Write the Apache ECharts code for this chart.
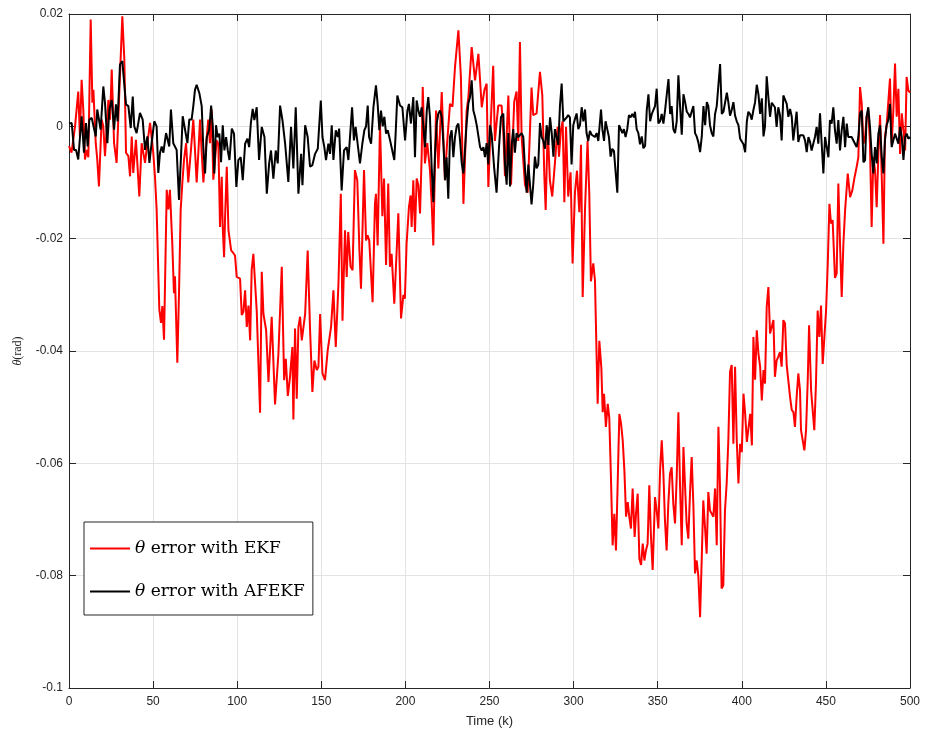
<!DOCTYPE html>
<html><head><meta charset="utf-8">
<script src="https://cdn.jsdelivr.net/npm/echarts@6/dist/echarts.min.js"></script>
<style>html,body{margin:0;padding:0;background:#fff}#c{width:927px;height:733px}</style>
</head><body><div id="c"></div>
<script>
// [time k, error in mrad]
const ekfErr = [
[0,-3.5],[1.5,-4.7],[2.2,-4.7],[3.6,0],[5.5,6.2],[6.5,-1.8],[7.5,8.3],[8.5,3],[9.5,-5.9],[10.5,-4.2],[11.5,-5.5],[12.9,19],[13.9,4.2],[14.5,6.5],[15.9,-3],[16.8,-5.9],[17.8,-10.7],[19.4,1.2],[20.4,0],[21.4,-5.3],[23.4,4.7],[24.4,1.2],[25.4,10.1],[26.8,-3],[28.3,-6.5],[29.9,5.9],[31.7,19.6],[32.9,11.9],[33.9,-4.7],[35.3,-5.3],[36.3,-8.9],[37.3,-1.8],[38.2,-8.3],[39.8,-2.4],[41.8,-12.5],[43.2,-3],[45.2,-6.5],[46.6,-3],[48.2,0.6],[50.1,-4.7],[51.1,-8.9],[52.1,-14.8],[53.7,-32.6],[54.7,-35],[55.5,-32],[56.5,-38],[58.1,-11.3],[59.1,-14.8],[60,-11.3],[61.4,-20.8],[62.4,-29.7],[63,-26.7],[64.4,-42.1],[65.4,-29.7],[66.4,-14.8],[67.4,-10],[68.4,-5.9],[69.6,-3],[70.9,-10],[72.5,-4.2],[73.9,1.2],[74.9,-4.2],[75.9,-10],[76.9,-4.7],[77.9,1.2],[78.9,-4.7],[79.9,-10],[81.3,-4.2],[82.8,1.2],[83.8,-3],[84.8,3],[85.8,-9.5],[87.8,-2.5],[88.8,-3.1],[89.8,-17.9],[90.8,-9],[91.4,-17.9],[92.2,-23.3],[92.8,-16.1],[93.8,-7.2],[94.8,-18.5],[96.4,-22.1],[97.5,-22.5],[98.7,-23],[99.7,-26.8],[101.7,-27.1],[102.7,-33.6],[103.7,-33],[104.7,-29.2],[105.7,-35.7],[106.7,-31.9],[107.7,-38.1],[108.6,-25.6],[109.6,-22.7],[111.6,-32.8],[113.6,-51],[114.6,-25.9],[115.6,-33.4],[117.2,-36.3],[118.6,-45.5],[120.5,-33.9],[122.5,-49.5],[124.5,-40.5],[126.5,-25],[127.9,-45.2],[128.9,-41.4],[130.1,-48],[131.4,-44.6],[132.8,-39.3],[133.4,-52.2],[134.4,-36],[135.4,-48.5],[136.4,-35.7],[137.4,-33.9],[138.4,-38.1],[140.4,-33.4],[141.9,-22.1],[143.3,-36],[144.7,-47.3],[145.9,-41.7],[147.3,-43.4],[148.3,-42.8],[149.3,-33.4],[150.7,-44],[152.2,-45.2],[153.8,-39.9],[155.8,-35.7],[157.2,-29.2],[158.6,-39.3],[160.2,-28],[161.6,-12],[162.6,-34.6],[164.1,-18.5],[165.1,-26.8],[166,-18.8],[167.4,-25],[168.6,-25.6],[170,-7.8],[171.4,-9.6],[172.6,-21.5],[173.6,-28.9],[175.4,-7.8],[176.6,-20.3],[177.5,-19.4],[178.5,-20.3],[180.5,-31.3],[181.9,-13.8],[182.5,-12],[183.5,-21.2],[184.9,0.5],[186.3,-16],[187.3,-9.3],[188.5,-24.7],[189.8,-10.2],[190.8,-25],[191.8,-22.7],[193.4,-31.6],[195.8,-15.5],[197.4,-34.2],[198.8,-30],[199.7,-30.7],[200.7,-20.9],[202.1,-14.4],[203.1,-12.3],[203.7,-17.9],[204.7,-9.6],[205.7,-18.8],[206.7,-9.3],[207.7,-10.5],[208.7,-15.5],[209.7,-4.9],[210.3,7],[211.6,-6.6],[213,-3],[214.6,-7.8],[215.6,-13.5],[216.6,-21.2],[218.2,2.8],[219.6,-7.5],[221.6,6.1],[223.5,-9.6],[224.5,-4.3],[226.5,4],[228,3.5],[229.5,10.6],[231.5,17.1],[233,8.8],[234.5,-13.8],[236.4,2.8],[237.4,5],[239.4,14.1],[241.4,8.2],[243.4,12.9],[245.4,3.4],[247,6.5],[248.3,7.6],[249.3,-10.8],[250.6,-0.6],[252.2,10.8],[253.2,-2.6],[255.2,3.7],[257.2,3.7],[258.2,-1],[259.2,-8.9],[261.2,5.5],[262.8,-10.4],[264.7,4.4],[266.1,6.2],[267.1,-2.6],[268.1,15],[269.1,-1.9],[271.1,-10.4],[272.7,-11.8],[275,6.9],[276,2],[278,2.3],[280,9.7],[281.4,5.5],[282.6,-8.9],[283.4,-14.9],[284.6,-0.1],[285.9,-9.6],[287.3,-12.5],[288.9,-6.5],[290.5,-0.1],[291.3,-5.4],[292.5,-0.5],[293.5,0.9],[294.5,-13.5],[295.5,-0.1],[296.8,-12.5],[298.2,-8.2],[299.4,-24.4],[300.8,-11.8],[302,-7.9],[303.4,-15.3],[304.4,-3.3],[305.4,-30.4],[306.8,-14.6],[308.3,-2.6],[309.3,-11.8],[310.3,-27.6],[311.7,-24.4],[312.7,-27.4],[314.3,-49.4],[315.3,-38.2],[316.5,-43],[317.3,-50.9],[318.1,-47.6],[319.2,-53.5],[320.3,-49.4],[321.2,-51.8],[322.2,-62.4],[323.2,-74.6],[324.2,-69],[325.2,-75.5],[326.2,-63.6],[327.2,-51.2],[328.2,-52.9],[329.2,-55.9],[330.2,-61.3],[331.2,-69.5],[332.2,-66.9],[333.1,-69.5],[334.1,-71.6],[335.1,-64.5],[336.3,-73.1],[337.1,-69],[338.1,-65.4],[339.1,-77],[340.1,-78.1],[341.1,-74.3],[342.1,-77.3],[343,-75.5],[344,-74.3],[345,-63.9],[346,-73.1],[347,-79],[348.4,-66],[349.4,-68.4],[350.4,-71.6],[351.4,-61.3],[352.4,-55.9],[353.4,-61.9],[354.3,-70.1],[355.3,-75.5],[356.3,-67.3],[357.3,-61.9],[358.3,-60.7],[359.3,-67.3],[360.3,-70.7],[361.3,-62.4],[362.3,-50.9],[363.3,-64.2],[364.3,-74.6],[365.3,-57.1],[366.2,-63.6],[367.2,-70.7],[368.2,-73.4],[369.2,-65.4],[370.2,-58.9],[371.2,-67.3],[372.2,-79.6],[373.2,-77.3],[374.2,-80.2],[375.2,-87.4],[376.2,-76.7],[377.1,-66.6],[378.1,-71.3],[379.1,-76.1],[380.1,-65.1],[381.1,-68.4],[382.1,-68.4],[383.1,-69.5],[384.1,-64.5],[385.1,-74.6],[386.1,-53.5],[387,-63.6],[388,-82.3],[389,-81.7],[390,-68.4],[391,-63.6],[392,-55.9],[393,-43.7],[394,-42.5],[395,-56.5],[396,-42.8],[397,-55.9],[398,-63.6],[399,-56.5],[400,-58],[401,-47.6],[402,-51.2],[403,-56.2],[404,-55.9],[405,-51.2],[406,-56.8],[406.9,-37.5],[407.9,-45.1],[408.9,-36.3],[409.9,-40.5],[410.9,-42.8],[411.9,-48.8],[412.9,-43.4],[413.8,-45.8],[414.8,-32.2],[415.8,-28.6],[416.8,-36.9],[417.8,-37.2],[418.8,-34.5],[419.7,-44.6],[420.7,-41.7],[421.7,-41],[422.7,-40.2],[423.7,-42.8],[424.7,-34.5],[425.7,-35.1],[426.7,-42.5],[427.7,-42.8],[428.7,-48.2],[429.7,-50.5],[430.7,-50.9],[431.6,-53.5],[432.6,-48.2],[433.6,-44],[434.6,-47],[435.2,-54.1],[436.2,-54],[437.2,-57.7],[438.2,-54.1],[439.2,-45.2],[440,-35.4],[441.2,-47],[442.1,-47.3],[443.1,-54.1],[444.1,-45.8],[445.1,-32.8],[446.1,-37.5],[447.1,-31.9],[448.1,-42.3],[449.1,-37.5],[450.1,-32.8],[451.1,-24.5],[452.1,-13.8],[453,-17.3],[454,-16.7],[455.4,-27],[456.4,-26.2],[457.4,-10.2],[458.4,-20.9],[459.4,-30.4],[460.4,-20.9],[461.4,-15],[463,-8.4],[464.4,-12.6],[465.7,-11.4],[466.9,-9.3],[468.3,-7.2],[469.3,-5.5],[470.3,7],[471.3,4],[472.3,-3.1],[473.3,-1.9],[474.2,1.7],[475.2,2.8],[476.2,-3.1],[477.2,-17.9],[478.2,-5.5],[479.2,-7.8],[480.2,-14.4],[481.2,-4.9],[482.2,2],[483.2,-9],[484.2,-20.9],[485.1,-1.9],[486.1,0.2],[487.1,0],[488.1,8.5],[489.1,-3.1],[490.1,2.8],[491.1,11.2],[492.1,1.7],[493.1,6.7],[494.1,-4.9],[495.1,2.3],[496.1,-0.7],[497.1,-4.3],[498,8.8],[499,6.4],[500,6]
];
const afekfErr = [
[0,0.5],[1.6,0.6],[3,-4.2],[4.2,-4.2],[5.5,-5.9],[7.5,1.8],[8.9,-4.7],[10.1,0.6],[11.1,-3.6],[12.1,1.2],[13.5,1.5],[14.5,1.2],[15.9,-1.8],[16.8,3],[17.8,3.3],[18.8,-0.6],[20.4,7.1],[21.4,4.2],[22.8,-3],[24,3],[25.4,4.7],[26.8,-0.6],[27.9,3.9],[28.9,0.9],[30.3,11],[31.7,11.6],[32.7,11.9],[33.9,3.9],[35.3,3.6],[36.7,-0.3],[37.9,5.3],[38.8,0],[40.2,-1.2],[42.2,2.4],[43.8,1.2],[45.2,-4.2],[46.6,-1.8],[47.8,-6.5],[49.1,-3],[50.7,0.9],[52.1,0],[53.1,-8.3],[54.1,-4.7],[55.1,-3.6],[56.1,-4.7],[57.7,-1.2],[58.7,-0.9],[59.6,-3.6],[60.6,3],[62,-3],[63,-3.3],[64,-4.2],[65.4,-13.1],[66.6,-5.3],[67.6,1.8],[69,-0.6],[70.4,-3],[71.5,1.2],[72.9,1.2],[73.9,3.6],[74.9,6.5],[75.9,7.4],[77.5,5.9],[78.9,3.6],[79.9,-4.2],[80.9,-8.4],[81.9,-1.9],[83.3,-0.7],[84.5,3.7],[85.5,0],[86.4,-8.4],[87.4,0.2],[88.4,-1.9],[89.4,-1.3],[90.4,-6.4],[91.4,0.2],[92.4,-4.3],[93.4,-1.9],[94.4,-4.3],[95.4,-6],[96.8,-0.4],[98.1,-1.3],[99.5,-10.8],[100.7,-6],[102.1,-5.5],[103.3,-9.6],[104.7,-3.1],[106.1,-2.2],[107.1,-3.7],[108.1,0.5],[109.2,3.1],[110.2,1.1],[111.6,3.4],[113,-6],[114.6,-0.1],[116.2,-1.9],[117.6,-12],[119,-6.6],[120.1,-4.3],[121.5,-9.3],[122.9,-4.3],[124.1,-6.6],[125.5,3.7],[126.9,1.1],[128.5,-3.1],[130.4,-9.9],[132,-0.1],[133.4,-7.5],[134.8,3.4],[136.4,-12],[138,-4.9],[138.8,-10.5],[140.4,0.2],[141.9,-1.9],[143.3,-7.2],[144.7,-6.9],[146.3,-4.9],[147.9,-4],[149.7,4.6],[150.7,-1.9],[151.8,-3.7],[152.8,-6],[154.2,-3.1],[155.2,-4.9],[156.2,0.2],[157.2,-6],[158.6,-0.7],[159.8,-1.9],[160.6,-0.4],[162.1,-11.4],[163.5,-4.3],[165.1,-3.7],[166.1,-6],[167.1,-6],[168.3,3.4],[169.4,-2.5],[170.4,-0.1],[171.6,-3.1],[173,-6.6],[174.4,-3.1],[175.6,-0.7],[176.6,0],[177.6,3.7],[178.4,-1.9],[179.6,-3.1],[181,3.4],[182.5,7.3],[183.5,4],[184.5,-0.7],[185.5,2.8],[186.5,0],[187.5,1.7],[188.5,-1.3],[189.5,-0.7],[190.9,-2.5],[192.2,-4.3],[193.4,-6],[194.2,-1.3],[195.2,5.5],[196.8,3.7],[198.2,3.4],[199.8,-2.5],[201.2,2.8],[202.1,4],[203.3,0.5],[204.7,5.2],[205.7,-5.5],[206.7,4.6],[207.7,2.8],[208.7,1.7],[209.7,3.4],[210.7,3.4],[211.7,-3.7],[212.7,2.8],[213.6,5.2],[214.6,1.7],[215.6,-7.2],[216.6,-13.5],[217.6,-4.9],[218.6,0.5],[219.6,2.3],[220.6,2.8],[221.6,1.7],[222.6,-3.1],[223.6,-9.6],[224.5,-5.5],[225.5,-12.9],[226.5,-1.9],[227.5,-0.7],[228.5,-5.5],[229.5,-1.9],[230.5,0],[231.5,0.5],[232.5,-2.5],[233.5,-6.6],[234.5,-8.4],[235.4,-4.3],[236.4,0.5],[237.4,4],[238.4,5.2],[239.4,8.2],[240.4,2.8],[241.4,1.7],[242.4,0.2],[243.4,0.5],[244.4,-3.7],[245.4,-4.3],[246.4,-3.7],[247.3,-5.5],[248.3,-3],[249.3,-6.8],[250.3,0.2],[251.3,-1.5],[252.8,-7.5],[254.2,-11.8],[255.6,-4],[256.8,1.6],[258.2,2.3],[259.2,-6.8],[260.2,-10.4],[261.2,-1.2],[262.2,-10.7],[263.2,-3.3],[264.1,-0.5],[265.1,-4.7],[266.1,-1.2],[267.1,-1.9],[268.1,-1.9],[269.1,-1.2],[270.1,-1.9],[271.1,-7.5],[272.1,-11.8],[273.1,-6.8],[274.1,-6.5],[275,-13.9],[276,-10.4],[277,-5.4],[278,-7.5],[279,-6.8],[280,0.6],[281,-1.9],[282,-2.6],[283,-4],[284,0.2],[285,-3.3],[286,1.6],[287,-1.2],[288,-5.4],[288.9,-0.5],[289.9,-0.5],[290.9,-3.3],[291.9,3.7],[292.9,7.6],[293.9,0.9],[294.9,0.6],[295.9,1.6],[296.8,2],[297.8,1.6],[298.8,-6.8],[299.8,0.2],[300.8,1.3],[301.8,2.3],[302.8,-0.5],[303.8,0.2],[304.8,3.4],[305.8,0.9],[306.8,3],[307.7,-1.2],[308.7,-2.6],[309.7,-0.8],[310.7,-1.5],[311.7,-1.2],[312.7,-1.9],[313.7,-1.2],[314.7,-2.6],[315.7,0.9],[316.3,3],[317.1,-0.5],[318.1,-2.6],[319,0.9],[320,-0.5],[321,-1.9],[322,-5.4],[323,-4],[324,-4.4],[325,-8.2],[326,-11.8],[327,0.2],[328,-0.5],[329,-1.2],[329.9,-0.5],[330.9,-1.9],[331.9,-0.5],[332.9,2],[333.9,1.6],[334.9,2.2],[335.9,1.6],[336.5,2.6],[337.5,-0.5],[338.5,-1.2],[339.5,-3.2],[340.5,-1.8],[341.5,-3.9],[342.5,-3.5],[343.5,2.9],[344.5,5.7],[345.5,0.9],[346.5,2.2],[347.4,2.2],[348.4,3.6],[349.4,6.7],[350.4,0.5],[351.4,0.9],[352.4,2.2],[353.4,0.5],[354.4,2.9],[355.4,5.7],[356.4,8.4],[357.4,2.2],[358.3,3.6],[359.3,-0.5],[360.3,-1.2],[361.3,0.9],[362.3,9.1],[363.3,3.6],[364.3,-1.5],[365.3,5.7],[366.3,4.3],[367.3,2.6],[368.3,2.2],[369.2,1.6],[370.2,1.9],[371.2,3.6],[372.2,-1.2],[373.2,-1.8],[374.2,-2.9],[375.2,-4.6],[376.2,-1.8],[377.2,3.6],[378.2,0.2],[379.2,4.3],[380.1,3.6],[381.1,0.2],[382.1,-1.2],[383.1,-1.8],[384.1,2.2],[385.1,3.6],[386.1,7.4],[387.1,11.1],[388.1,2.2],[389.1,2.6],[390.1,2.9],[391.1,6],[392,4.3],[393,1.9],[394,2.9],[395,4.3],[396,1.9],[397,0.9],[398,0.2],[399,-2.2],[400,-2.5],[401,-3.2],[402,-4.6],[403,0.9],[403.9,2.6],[404.9,2.2],[405.9,1.2],[406.9,2.9],[407.9,4.3],[408.9,7.4],[409.9,5.7],[410.9,2.2],[411.9,5],[412.9,-1.8],[413.8,0],[414.8,8.9],[415.8,5.2],[416.8,1.7],[417.8,4.2],[418.8,4.3],[419.7,3.4],[420.7,-0.1],[421.7,3.4],[422.7,2],[423.7,-2.5],[424.7,5.5],[425.7,5.2],[426.7,4],[427.7,1.7],[428.7,3.1],[429.7,1.7],[430.6,-2.5],[431.6,-2.8],[432.6,2.6],[433.6,-2.8],[434.6,-1.6],[435.6,-1.3],[436.6,-1.6],[437.6,-2.5],[438.6,-4.6],[439.6,-1.9],[440.6,-2.8],[441.5,-4.3],[442.5,-3.1],[443.5,-1.9],[444.5,-0.1],[445.5,-3.1],[446.5,2.3],[447.5,-3.1],[448.5,-8.4],[449.5,-1.9],[450.5,-3.7],[451.5,-5.5],[452.4,1.1],[453.4,0.5],[454.4,3.4],[455.4,-0.7],[456.4,-3.1],[457.4,1.1],[458.4,-4.3],[459.4,-0.7],[460.4,1.7],[461.4,-3.7],[462.4,0.5],[463.3,-1.9],[464.3,-1.6],[465.3,-1.9],[466.3,-2.2],[467.3,-3.1],[468.3,-3.7],[469.3,-1.9],[470.3,2.3],[471.3,2.8],[472.3,-6.4],[473.3,-6],[474.2,1.7],[475.2,3.4],[476.2,-0.1],[477.2,-4.9],[478.2,-8.4],[479.2,-3.7],[480.2,-6.6],[481.2,-1.3],[482.2,0.2],[483.2,-5.5],[484.2,-8.4],[485.1,-2.5],[486.1,0.2],[487.1,1.1],[488.1,4],[489.1,-3.7],[490.1,-2.5],[491.1,-1.3],[492.1,-2.2],[493.1,-3.1],[494.1,-0.1],[495.1,-1.9],[496.1,-6],[497.1,-1.9],[498,-1.3],[499,-2.2],[500,-1.9]
];
const seriesNames = ['EKF', 'AFEKF'];
const xRange = [0, 500, 50];
const yRange = [-0.1, 0.02, 0.02];

const toRad = arr => arr.map(p => [p[0], p[1] / 1000]);
const axisColor = '#262626';
const sans = 'Liberation Sans, Arial, sans-serif';

const chart = echarts.init(document.getElementById('c'), null, {renderer: 'canvas'});
const baseX = {type: 'value', min: xRange[0], max: xRange[1], interval: xRange[2]};
const baseY = {type: 'value', min: yRange[0], max: yRange[1], interval: yRange[2]};
chart.setOption({
  animation: false,
  backgroundColor: '#ffffff',
  grid: {left: 69, right: 17, top: 14, bottom: 45, containLabel: false},
  xAxis: [
    Object.assign({}, baseX, {
      position: 'bottom',
      axisLine: {show: true, onZero: false, lineStyle: {color: axisColor, width: 1}},
      axisTick: {show: true, inside: true, length: 7, lineStyle: {color: axisColor}},
      axisLabel: {color: axisColor, fontFamily: sans, fontSize: 12, margin: 8},
      splitLine: {show: true, lineStyle: {color: '#e3e3e3', width: 1}},
      name: 'Time (k)', nameLocation: 'middle', nameGap: 27,
      nameTextStyle: {color: axisColor, fontFamily: sans, fontSize: 13}
    }),
    Object.assign({}, baseX, {
      position: 'top',
      axisLine: {show: true, onZero: false, lineStyle: {color: axisColor, width: 1}},
      axisTick: {show: true, inside: true, length: 7, lineStyle: {color: axisColor}},
      axisLabel: {show: false}, splitLine: {show: false}
    })
  ],
  yAxis: [
    Object.assign({}, baseY, {
      position: 'left',
      axisLine: {show: true, onZero: false, lineStyle: {color: axisColor, width: 1}},
      axisTick: {show: true, inside: true, length: 7, lineStyle: {color: axisColor}},
      axisLabel: {color: axisColor, fontFamily: sans, fontSize: 12, margin: 6,
        formatter: v => { const r = Math.round(v * 100) / 100; return r === 0 ? '0' : String(r); }},
      splitLine: {show: true, lineStyle: {color: '#e3e3e3', width: 1}},
      name: '{i|θ}{t|(rad)}', nameLocation: 'middle', nameGap: 45, nameRotate: 90,
      nameTextStyle: {color: axisColor, rich: {
        i: {fontFamily: 'Liberation Serif', fontStyle: 'italic', fontSize: 12, color: axisColor},
        t: {fontFamily: 'Liberation Serif', fontSize: 12, color: axisColor}
      }}
    }),
    Object.assign({}, baseY, {
      position: 'right',
      axisLine: {show: true, onZero: false, lineStyle: {color: axisColor, width: 1}},
      axisTick: {show: true, inside: true, length: 7, lineStyle: {color: axisColor}},
      axisLabel: {show: false}, splitLine: {show: false}
    })
  ],
  legend: {
    show: true, orient: 'vertical', left: 84, top: 522,
    backgroundColor: '#ffffff', borderColor: axisColor, borderWidth: 1,
    padding: [18, 8, 15, 6], itemGap: 26, itemWidth: 40, itemHeight: 2, itemTextGap: 5,
    icon: 'rect',
    data: seriesNames,
    formatter: n => '{i|θ}{t| error with ' + n + '}',
    textStyle: {rich: {
      i: {fontFamily: 'DejaVu Serif', fontStyle: 'italic', fontSize: 17, color: '#000', height: 20},
      t: {fontFamily: 'DejaVu Serif', fontSize: 17, color: '#000', height: 20}
    }}
  },
  series: [
    {name: seriesNames[0], type: 'line', data: toRad(ekfErr), symbol: 'none', showSymbol: false,
     lineStyle: {color: '#ff0000', width: 2}, itemStyle: {color: '#ff0000'}, z: 2},
    {name: seriesNames[1], type: 'line', data: toRad(afekfErr), symbol: 'none', showSymbol: false,
     lineStyle: {color: '#000000', width: 2}, itemStyle: {color: '#000000'}, z: 3}
  ]
});
</script>
</body></html>
